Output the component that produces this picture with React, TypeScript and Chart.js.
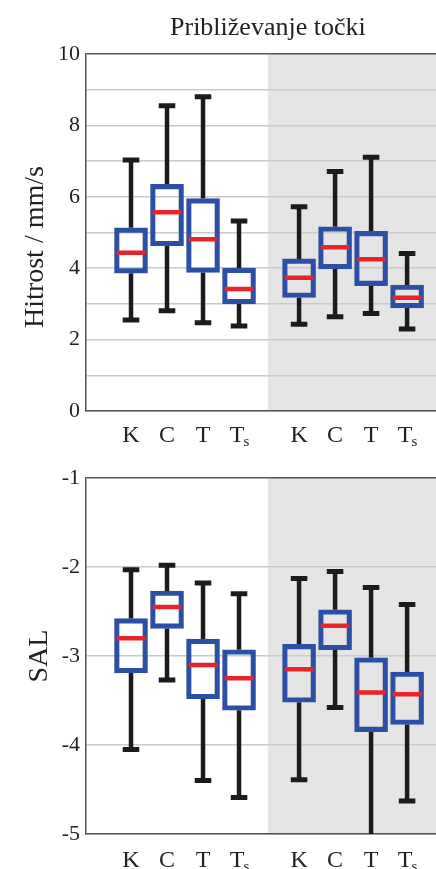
import React, { useEffect, useRef } from 'react';
import { Chart, registerables } from 'chart.js';

Chart.register(...registerables);

// ---- data ----
const CATEGORIES = ['K', 'C', 'T', 'Ts', 'K', 'C', 'T', 'Ts'];
const POSITIONS = [1, 2, 3, 4, 5.667, 6.667, 7.667, 8.667];
const GROUP_SPLIT = 4.8;
const MAIN_TITLE = 'Približevanje točki';

// Hitrost / mm/s
const SPEED_MIN = [2.55, 2.81, 2.47, 2.38, 2.43, 2.64, 2.73, 2.3];
const SPEED_Q1 = [3.86, 4.63, 3.88, 3.0, 3.18, 3.98, 3.51, 2.89];
const SPEED_MED = [4.43, 5.57, 4.81, 3.42, 3.73, 4.59, 4.25, 3.17];
const SPEED_Q3 = [5.13, 6.35, 5.95, 4.0, 4.26, 5.16, 5.03, 3.53];
const SPEED_MAX = [7.03, 8.55, 8.8, 5.32, 5.72, 6.71, 7.11, 4.41];

// SAL
const SAL_MIN = [-4.05, -3.27, -4.4, -4.59, -4.39, -3.58, -5.1, -4.63];
const SAL_Q1 = [-3.19, -2.69, -3.48, -3.61, -3.52, -2.93, -3.85, -3.77];
const SAL_MED = [-2.8, -2.45, -3.1, -3.25, -3.15, -2.66, -3.41, -3.43];
const SAL_Q3 = [-2.58, -2.27, -2.81, -2.93, -2.87, -2.48, -3.02, -3.18];
const SAL_MAX = [-2.03, -1.98, -2.18, -2.3, -2.13, -2.05, -2.23, -2.42];

// ---- style ----
const SERIF = '"Liberation Serif", "Times New Roman", serif';
const BLUE = '#2c4fa5';
const RED = '#e8232b';
const BLACK = '#1b1b1b';
const AXIS = '#555555';
const GRID = '#cacaca';
const SHADE = '#e5e5e5';
const TEXT = '#222222';
const X_MIN = -0.25;
const X_MAX = 9.47;
const CAP_HALF = 0.23;
const MED_HALF = 0.4;

type PanelProps = {
  top: number;
  width: number;
  height: number;
  areaTop: number;
  areaBottom: number;
  mins: number[];
  q1: number[];
  meds: number[];
  q3: number[];
  maxs: number[];
  yMin: number;
  yMax: number;
  labelEvery: number;
  yTitle: string;
  yTitleX: number;
  yTitleY: number;
  labelBaseline: number;
  mainTitle?: string;
};

function BoxPanel(props: PanelProps) {
  const ref = useRef<HTMLCanvasElement>(null);
  useEffect(() => {
    const p = props;
    const whisk: any[] = [];
    const caps: any[] = [];
    const medians: any[] = [];
    POSITIONS.forEach((x, i) => {
      whisk.push({ x, y: p.q3[i] }, { x, y: p.maxs[i] }, { x, y: null });
      whisk.push({ x, y: p.mins[i] }, { x, y: p.q1[i] }, { x, y: null });
      caps.push({ x: x - CAP_HALF, y: p.maxs[i] }, { x: x + CAP_HALF, y: p.maxs[i] }, { x, y: null });
      caps.push({ x: x - CAP_HALF, y: p.mins[i] }, { x: x + CAP_HALF, y: p.mins[i] }, { x, y: null });
      medians.push({ x: x - MED_HALF, y: p.meds[i] }, { x: x + MED_HALF, y: p.meds[i] }, { x, y: null });
    });
    const boxes = POSITIONS.map((x, i) => ({ x, y: [p.q1[i], p.q3[i]] }));

    const shade = {
      id: 'shade',
      beforeDraw(chart: any) {
        const { ctx, chartArea: a } = chart;
        const xs = chart.scales.x.getPixelForValue(GROUP_SPLIT);
        ctx.save();
        ctx.fillStyle = SHADE;
        ctx.fillRect(xs, a.top, a.right - xs, a.bottom - a.top);
        ctx.restore();
      },
    };

    const texts = {
      id: 'texts',
      afterDraw(chart: any) {
        const { ctx } = chart;
        const xs = chart.scales.x;
        ctx.save();
        ctx.fillStyle = TEXT;
        ctx.textBaseline = 'alphabetic';
        CATEGORIES.forEach((c, i) => {
          const px = xs.getPixelForValue(POSITIONS[i]);
          ctx.font = `24px ${SERIF}`;
          if (c.length > 1) {
            const main = c[0];
            const sub = c.slice(1);
            const w1 = ctx.measureText(main).width;
            ctx.font = `15px ${SERIF}`;
            const w2 = ctx.measureText(sub).width;
            const start = px - (w1 + w2) / 2 + 1;
            ctx.font = `24px ${SERIF}`;
            ctx.textAlign = 'left';
            ctx.fillText(main, start, p.labelBaseline);
            ctx.font = `15px ${SERIF}`;
            ctx.fillText(sub, start + w1 - 1, p.labelBaseline + 4);
          } else {
            ctx.textAlign = 'center';
            ctx.fillText(c, px, p.labelBaseline);
          }
        });
        ctx.save();
        ctx.translate(p.yTitleX, p.yTitleY);
        ctx.rotate(-Math.PI / 2);
        ctx.font = `28px ${SERIF}`;
        ctx.textAlign = 'center';
        ctx.fillText(p.yTitle, 0, 0);
        ctx.restore();
        if (p.mainTitle) {
          ctx.font = `26px ${SERIF}`;
          ctx.textAlign = 'center';
          ctx.fillText(p.mainTitle, xs.getPixelForValue(GROUP_SPLIT), 35);
        }
        ctx.restore();
      },
    };

    const chart = new Chart(ref.current as HTMLCanvasElement, {
      type: 'bar',
      data: {
        datasets: [
          { type: 'line', data: medians, borderColor: RED, borderWidth: 4.5, pointRadius: 0, spanGaps: false, order: 0, clip: 0 } as any,
          {
            type: 'bar',
            data: boxes,
            backgroundColor: 'rgba(0,0,0,0)',
            borderColor: BLUE,
            borderWidth: 4.5,
            borderSkipped: false,
            barThickness: 33,
            order: 1,
          } as any,
          { type: 'line', data: caps, borderColor: BLACK, borderWidth: 5, pointRadius: 0, spanGaps: false, order: 2, clip: 0 } as any,
          { type: 'line', data: whisk, borderColor: BLACK, borderWidth: 4.5, pointRadius: 0, spanGaps: false, order: 3, clip: 0 } as any,
        ],
      },
      options: {
        animation: false,
        responsive: false,
        events: [],
        layout: { padding: { left: 0, right: 0, top: p.areaTop, bottom: 0 } },
        plugins: { legend: { display: false }, tooltip: { enabled: false }, title: { display: false } },
        scales: {
          x: {
            type: 'linear',
            min: X_MIN,
            max: X_MAX,
            offset: false,
            grid: { display: false },
            ticks: { display: false },
            border: { display: true, color: AXIS, width: 1.5 },
            afterFit(s: any) {
              s.height = p.height - p.areaBottom;
            },
          },
          y: {
            type: 'linear',
            min: p.yMin,
            max: p.yMax,
            ticks: {
              stepSize: 1,
              padding: 6,
              color: TEXT,
              font: { family: SERIF, size: 22 },
              callback: (v: any) => (Math.round(v) % p.labelEvery === 0 ? String(v) : ''),
            },
            grid: {
              drawTicks: false,
              lineWidth: 1.5,
              color: (c: any) => (c.tick && c.tick.value === p.yMax ? AXIS : GRID),
            },
            border: { display: true, color: AXIS, width: 1.5 },
            afterFit(s: any) {
              s.width = 86;
            },
          },
        },
      } as any,
      plugins: [shade, texts],
    });
    return () => chart.destroy();
  }, []);

  return (
    <canvas
      ref={ref}
      width={props.width}
      height={props.height}
      style={{ position: 'absolute', left: 0, top: props.top, width: props.width, height: props.height, display: 'block' }}
    />
  );
}

export default function App() {
  return (
    <div style={{ position: 'absolute', left: 0, top: 0, width: 436, height: 869, background: '#ffffff', overflow: 'hidden' }}>
      <BoxPanel
        top={0}
        width={436}
        height={450}
        areaTop={54}
        areaBottom={411}
        mins={SPEED_MIN}
        q1={SPEED_Q1}
        meds={SPEED_MED}
        q3={SPEED_Q3}
        maxs={SPEED_MAX}
        yMin={0}
        yMax={10}
        labelEvery={2}
        yTitle="Hitrost / mm/s"
        yTitleX={43}
        yTitleY={247}
        labelBaseline={442}
        mainTitle={MAIN_TITLE}
      />
      <BoxPanel
        top={450}
        width={436}
        height={419}
        areaTop={28}
        areaBottom={384}
        mins={SAL_MIN}
        q1={SAL_Q1}
        meds={SAL_MED}
        q3={SAL_Q3}
        maxs={SAL_MAX}
        yMin={-5}
        yMax={-1}
        labelEvery={1}
        yTitle="SAL"
        yTitleX={47}
        yTitleY={206}
        labelBaseline={417}
      />
    </div>
  );
}
